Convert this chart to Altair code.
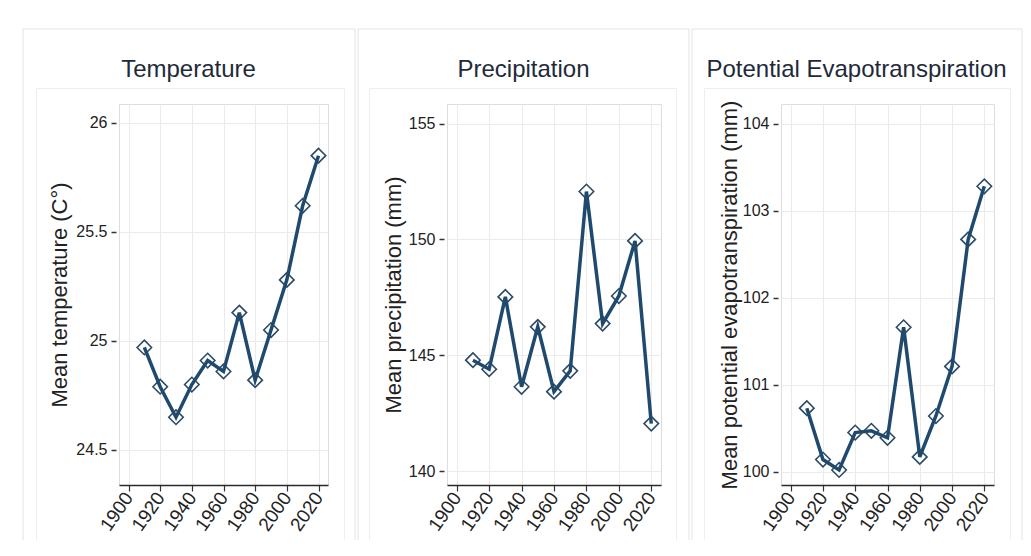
import altair as alt
import pandas as pd

# ---------------- data ----------------
years = [1910, 1920, 1930, 1940, 1950, 1960, 1970, 1980, 1990, 2000, 2010, 2020]
temperature = [24.97, 24.79, 24.65, 24.80, 24.91, 24.86, 25.13, 24.82, 25.05, 25.28, 25.62, 25.85]
precipitation = [144.79, 144.40, 147.52, 143.64, 146.23, 143.43, 144.33, 152.07, 146.37, 147.56, 149.94, 142.05]
pet = [100.73, 100.14, 100.02, 100.45, 100.47, 100.39, 101.66, 100.17, 100.64, 101.21, 102.67, 103.28]

x_ticks = [1900, 1920, 1940, 1960, 1980, 2000, 2020]
temp_ticks = [24.5, 25, 25.5, 26]
precip_ticks = [140, 145, 150, 155]
pet_ticks = [100, 101, 102, 103, 104]

panel_titles = ["Temperature", "Precipitation", "Potential Evapotranspiration"]
y_titles = ["Mean temperature (C°)", "Mean precipitation (mm)", "Mean potential evapotranspiration (mm)"]

# ---------------- style ----------------
LINE = "#1f4a6e"
MARK_STROKE = "#2c4a66"
GRID = "#ebebeb"
FRAME = "#e3e3e3"
INNER = "#eeeeee"
TXT = "#222222"
TITLE_COL = "#1e2a3a"
FONT = "Liberation Sans, Arial, sans-serif"
H = 381
ONE = pd.DataFrame({"k": [0]})


def vrule(x, y, y2, color):
    return alt.Chart(ONE).mark_rule(color=color, strokeWidth=1).encode(
        x=alt.value(x), y=alt.value(y), y2=alt.value(y2))


def hrule(x, x2, y, color):
    return alt.Chart(ONE).mark_rule(color=color, strokeWidth=1).encode(
        x=alt.value(x), x2=alt.value(x2), y=alt.value(y))


def panel(values, title, ytitle, ydomain, yticks, yfmt, width, frame, inner, title_x, ytitle_x):
    df = pd.DataFrame({"year": years, "value": values})
    fl, fr = frame
    il, ir = inner
    xenc = alt.X(
        "year:Q",
        scale=alt.Scale(domain=[1894, 2026], nice=False, zero=False),
        axis=alt.Axis(
            values=x_ticks, format="d", title=None,
            labelAngle=-55, labelAlign="right", labelBaseline="middle",
            labelFontSize=19, labelFont=FONT, labelColor=TXT, labelPadding=3,
            labelOverlap=False, labelFlush=False,
            tickSize=6, tickColor="#333333", tickWidth=1.2,
            domain=True, domainColor="#2a2a2a", domainWidth=1.5,
            grid=True, gridColor=GRID, gridWidth=1,
        ),
    )
    yenc = alt.Y(
        "value:Q",
        scale=alt.Scale(domain=ydomain, nice=False, zero=False),
        axis=alt.Axis(
            values=yticks, format=yfmt, title=ytitle,
            titleFont=FONT, titleFontSize=22, titleFontWeight="normal", titleColor=TXT,
            titleX=ytitle_x, titleY=H / 2, titleBaseline="middle", titleAngle=270,
            labelFontSize=16, labelFont=FONT, labelColor=TXT, labelPadding=4,
            labelOverlap=False,
            offset=3, tickSize=5, tickColor="#333333", tickWidth=1.5,
            domain=False,
            grid=True, gridColor=GRID, gridWidth=1,
        ),
    )
    points = alt.Chart(df).mark_point(
        shape="diamond", size=210, filled=True, fill="white",
        stroke=MARK_STROKE, strokeWidth=1.6, opacity=1,
    ).encode(x=xenc, y=yenc)
    line = alt.Chart(df).mark_line(color=LINE, strokeWidth=3.5).encode(x=xenc, y=yenc)
    ttl = alt.Chart(ONE).mark_text(
        font=FONT, fontSize=24, color=TITLE_COL, align="center", baseline="alphabetic"
    ).encode(x=alt.value(title_x), y=alt.value(-27.5), text=alt.value(title))
    deco = [
        vrule(fl, -75, 436, FRAME), vrule(fr, -75, 436, FRAME), hrule(fl, fr, -75, FRAME),
        vrule(il, -15.5, 436, INNER), vrule(ir, -15.5, 436, INNER), hrule(il, ir, -15.5, INNER),
    ]
    return alt.layer(*deco, ttl, points, line).properties(width=width, height=H)


p1 = panel(temperature, panel_titles[0], y_titles[0], [24.339, 26.087], temp_ticks, "~g",
           209, (-96, 236), (-82.5, 225.5), 69.5, -56.5)
p2 = panel(precipitation, panel_titles[1], y_titles[1], [139.40, 155.85], precip_ticks, "d",
           214, (-89, 242), (-77.5, 229.5), 76.5, -50.5)
p3 = panel(pet, panel_titles[2], y_titles[2], [99.847, 104.226], pet_ticks, "d",
           213, (-89, 241), (-76.5, 229.5), 75.5, -49)

chart = alt.hconcat(p1, p2, p3, spacing=1).properties(
    padding={"left": 14, "top": 20, "right": 0, "bottom": 0}
).configure_view(stroke="transparent").configure(background="white")

chart.save("out.html", embed_options={"renderer": "svg", "actions": False})
